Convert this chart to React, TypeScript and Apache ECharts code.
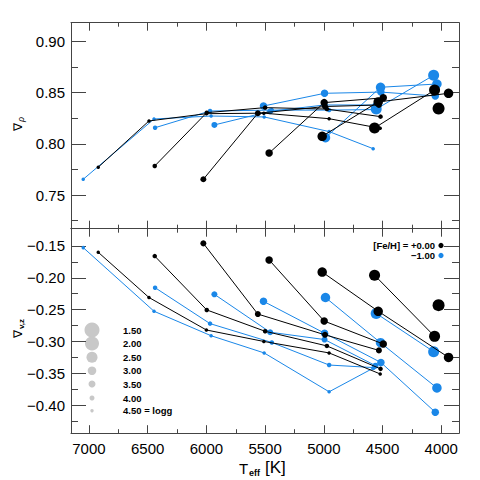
import React, { useEffect, useRef } from "react";
import * as echarts from "echarts";

// logg values (marker size encodes logg)
const LOGG_LABELS = ["1.50", "2.00", "2.50", "3.00", "3.50", "4.00", "4.50"];
const SYMBOL_SIZES = [12, 11, 9.5, 7.5, 6, 4.5, 3.5];
const LEGEND_RADII = [7.5, 7, 5.5, 4.3, 3.5, 2.5, 1.7];

// [Fe/H] = +0.00 : one track per logg (hot -> cool)
const TEFF_SOLAR = [
  [4023],
  [4568, 4057],
  [5014, 4537, 3938],
  [5466, 4997, 4494],
  [6026, 5562, 4990, 4531],
  [6440, 5997, 5500, 4974, 4517],
  [6921, 6489, 6000, 5511, 4955, 4520],
];
const RHO_SOLAR = [
  [0.8345],
  [0.8155, 0.8526],
  [0.8074, 0.841, 0.8494],
  [0.791, 0.8403, 0.845],
  [0.7654, 0.8299, 0.8365, 0.838],
  [0.7784, 0.8305, 0.8354, 0.834, 0.8266],
  [0.7772, 0.8224, 0.8295, 0.83, 0.8246, 0.8152],
];
const VZ_SOLAR = [
  [-0.243],
  [-0.196, -0.292],
  [-0.191, -0.2526, -0.325],
  [-0.172, -0.268, -0.304],
  [-0.146, -0.257, -0.2896, -0.314],
  [-0.166, -0.2505, -0.284, -0.307, -0.343],
  [-0.16, -0.231, -0.282, -0.3, -0.318, -0.351],
];

// [Fe/H] = -1.00
const TEFF_POOR = [
  [],
  [4554, 4065],
  [4986, 4517, 4037],
  [5514, 4994, 4514, 4051],
  [5932, 5457, 4994, 4560],
  [6437, 5969, 5443, 4955, 4575],
  [7049, 6446, 5960, 5508, 4955, 4580],
];
const RHO_POOR = [
  [],
  [0.834, 0.867],
  [0.806, 0.8553, 0.8585],
  [0.837, 0.8494, 0.8506, 0.8468],
  [0.8185, 0.8318, 0.838, 0.838],
  [0.8158, 0.8321, 0.833, 0.833, 0.8335],
  [0.7654, 0.8243, 0.8272, 0.8263, 0.812, 0.7953],
];
const VZ_POOR = [
  [],
  [-0.256, -0.316],
  [-0.231, -0.302, -0.373],
  [-0.237, -0.287, -0.333, -0.411],
  [-0.226, -0.2855, -0.297, -0.338],
  [-0.2156, -0.272, -0.3016, -0.337, -0.341],
  [-0.1527, -0.2526, -0.291, -0.318, -0.379, -0.342],
];

// axes
const X_MIN = 3849;
const X_MAX = 7153;
const X_MAJOR = [4000, 4500, 5000, 5500, 6000, 6500, 7000];
const X_MINOR = [4250, 4750, 5250, 5750, 6250, 6750];
const RHO_MIN = 0.7171;
const RHO_MAX = 0.9184;
const RHO_MAJOR = [0.75, 0.8, 0.85, 0.9];
const RHO_MINOR = [0.725, 0.775, 0.825, 0.875];
const VZ_MIN = -0.444;
const VZ_MAX = -0.123;
const VZ_MAJOR = [-0.4, -0.35, -0.3, -0.25, -0.2, -0.15];
const VZ_MINOR = [-0.425, -0.375, -0.325, -0.275, -0.225, -0.175];

const BLACK = "#000000";
const BLUE = "#1a87e8";
const AXIS_COLOR = "#444444";
const FONT = "'Liberation Sans', Arial, sans-serif";

const fmt = (v: number) => (v < 0 ? "\u2212" : "") + Math.abs(v).toFixed(2);

function xAxes(grid: number, showLabels: boolean) {
  const base: any = {
    gridIndex: grid,
    type: "value",
    min: X_MIN,
    max: X_MAX,
    inverse: true,
    splitLine: { show: false },
  };
  const line = { show: true, onZero: false, lineStyle: { color: AXIS_COLOR, width: 1 } };
  const noLine = { show: false, onZero: false };
  const tick = (len: number, vals: number[]) => ({
    show: true,
    inside: true,
    length: len,
    customValues: vals,
    lineStyle: { color: AXIS_COLOR, width: 1 },
  });
  return [
    {
      ...base,
      position: "bottom",
      axisLine: line,
      axisTick: tick(8, X_MAJOR),
      axisLabel: {
        show: showLabels,
        customValues: X_MAJOR,
        margin: 8,
        color: "#000",
        fontSize: 15,
        fontFamily: FONT,
        formatter: (v: number) => String(v),
      },
    },
    { ...base, position: "top", axisLine: line, axisTick: tick(8, X_MAJOR), axisLabel: { show: false } },
    { ...base, position: "bottom", axisLine: noLine, axisTick: tick(4, X_MINOR), axisLabel: { show: false } },
    { ...base, position: "top", axisLine: noLine, axisTick: tick(4, X_MINOR), axisLabel: { show: false } },
  ];
}

function yAxes(grid: number, min: number, max: number, major: number[], minor: number[]) {
  const base: any = { gridIndex: grid, type: "value", min, max, splitLine: { show: false } };
  const line = { show: true, onZero: false, lineStyle: { color: AXIS_COLOR, width: 1 } };
  const noLine = { show: false, onZero: false };
  const tick = (len: number, vals: number[]) => ({
    show: true,
    inside: true,
    length: len,
    customValues: vals,
    lineStyle: { color: AXIS_COLOR, width: 1 },
  });
  return [
    {
      ...base,
      position: "left",
      axisLine: line,
      axisTick: tick(15, major),
      axisLabel: {
        show: true,
        customValues: major,
        margin: 6,
        color: "#000",
        fontSize: 15,
        fontFamily: FONT,
        formatter: fmt,
      },
    },
    { ...base, position: "right", axisLine: line, axisTick: tick(15, major), axisLabel: { show: false } },
    { ...base, position: "left", axisLine: noLine, axisTick: tick(7, minor), axisLabel: { show: false } },
    { ...base, position: "right", axisLine: noLine, axisTick: tick(7, minor), axisLabel: { show: false } },
  ];
}

function tracks(teffs: number[][], vals: number[][], color: string, grid: number, z: number) {
  const out: any[] = [];
  teffs.forEach((ts, gi) => {
    if (!ts.length) return;
    out.push({
      type: "line",
      xAxisIndex: grid * 4,
      yAxisIndex: grid * 4,
      data: ts.map((t, i) => [t, vals[gi][i]]),
      symbol: "circle",
      symbolSize: SYMBOL_SIZES[gi],
      showSymbol: true,
      showAllSymbol: true,
      lineStyle: { color, width: 1 },
      itemStyle: { color },
      emphasis: { disabled: true },
      silent: true,
      z,
    });
  });
  return out;
}

const LEGEND_X = 92;
const LEGEND_Y = [330, 343.5, 357.3, 370.7, 384, 398, 410.7];
const LEG_FONT = 9.5;

export default function App() {
  const ref = useRef<HTMLDivElement>(null);
  useEffect(() => {
    if (!ref.current) return;
    const chart = echarts.init(ref.current, null, { renderer: "svg" });
    const graphic: any[] = [];
    // logg size legend
    LOGG_LABELS.forEach((lab, i) => {
      graphic.push({
        type: "circle",
        shape: { cx: LEGEND_X, cy: LEGEND_Y[i], r: LEGEND_RADII[i] },
        style: { fill: "#c8c8c8" },
        silent: true,
      });
      graphic.push({
        type: "text",
        x: 123,
        y: LEGEND_Y[i],
        style: {
          text: i === LOGG_LABELS.length - 1 ? lab + " = logg" : lab,
          fontSize: LEG_FONT,
          fontWeight: "bold",
          fontFamily: FONT,
          fill: "#000",
          verticalAlign: "middle",
          align: "left",
        },
        silent: true,
      });
    });
    // metallicity legend
    graphic.push(
      {
        type: "text",
        x: 435,
        y: 245,
        style: { text: "[Fe/H] = +0.00", fontSize: LEG_FONT, fontWeight: "bold", fontFamily: FONT, fill: "#000", align: "right", verticalAlign: "middle" },
      },
      { type: "circle", shape: { cx: 441, cy: 245.5, r: 2.6 }, style: { fill: BLACK } },
      {
        type: "text",
        x: 435,
        y: 255,
        style: { text: "\u22121.00", fontSize: LEG_FONT, fontWeight: "bold", fontFamily: FONT, fill: "#000", align: "right", verticalAlign: "middle" },
      },
      { type: "circle", shape: { cx: 441, cy: 255.5, r: 2.6 }, style: { fill: BLUE } }
    );
    // axis titles
    graphic.push(
      {
        type: "group",
        x: 18,
        y: 131,
        rotation: Math.PI / 2,
        children: [
          { type: "text", x: 0, y: 0, style: { text: "\u2207", fontSize: 12, fontFamily: FONT, fill: "#000", verticalAlign: "middle" } },
          { type: "text", x: 9, y: 3, style: { text: "\u03c1", fontSize: 9, fontStyle: "italic", fontFamily: FONT, fill: "#000", verticalAlign: "middle" } },
        ],
      },
      {
        type: "group",
        x: 18,
        y: 338,
        rotation: Math.PI / 2,
        children: [
          { type: "text", x: 0, y: 0, style: { text: "\u2207", fontSize: 12, fontFamily: FONT, fill: "#000", verticalAlign: "middle" } },
          { type: "text", x: 9, y: 3, style: { text: "v,z", fontSize: 8, fontWeight: "bold", fontFamily: FONT, fill: "#000", verticalAlign: "middle" } },
        ],
      },
      { type: "text", x: 239, y: 468, style: { text: "T", fontSize: 15, fontFamily: FONT, fill: "#000", verticalAlign: "middle" } },
      { type: "text", x: 249, y: 473, style: { text: "eff", fontSize: 9, fontWeight: "bold", fontFamily: FONT, fill: "#000", verticalAlign: "middle" } },
      { type: "text", x: 265, y: 467, style: { text: "[K]", fontSize: 17, fontFamily: FONT, fill: "#000", verticalAlign: "middle" } }
    );

    chart.setOption({
      animation: false,
      backgroundColor: "#fff",
      grid: [
        { left: 71, right: 21, top: 22.7, height: 206, containLabel: false },
        { left: 71, right: 21, top: 228.7, height: 204.5, containLabel: false },
      ],
      xAxis: [...xAxes(0, false), ...xAxes(1, true)],
      yAxis: [
        ...yAxes(0, RHO_MIN, RHO_MAX, RHO_MAJOR, RHO_MINOR),
        ...yAxes(1, VZ_MIN, VZ_MAX, VZ_MAJOR, VZ_MINOR),
      ],
      series: [
        ...tracks(TEFF_POOR, RHO_POOR, BLUE, 0, 2),
        ...tracks(TEFF_SOLAR, RHO_SOLAR, BLACK, 0, 3),
        ...tracks(TEFF_POOR, VZ_POOR, BLUE, 1, 2),
        ...tracks(TEFF_SOLAR, VZ_SOLAR, BLACK, 1, 3),
      ],
      graphic,
    });
    return () => chart.dispose();
  }, []);
  return (
    <div
      ref={ref}
      style={{ position: "fixed", left: 0, top: 0, width: 480, height: 480, background: "#fff" }}
    />
  );
}
